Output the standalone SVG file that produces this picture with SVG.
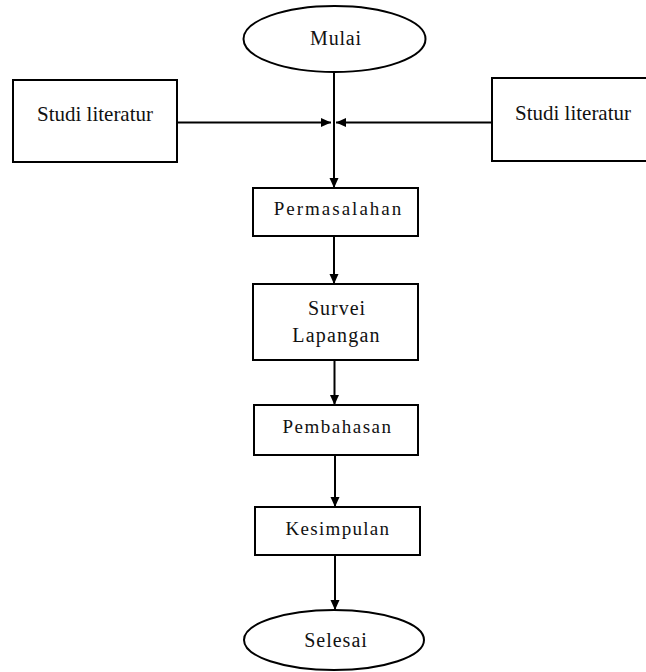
<svg xmlns="http://www.w3.org/2000/svg" width="646" height="672" viewBox="0 0 646 672">
<defs>
<style>
.shape{fill:#fff;stroke:#000;stroke-width:2}
.lbl{font-family:'Liberation Serif','Times New Roman','DejaVu Serif',serif;fill:#111;text-anchor:middle}
.edge{stroke:#000;stroke-width:2;fill:none}
</style>
<marker id="ah" markerUnits="userSpaceOnUse" markerWidth="11" markerHeight="10" refX="10" refY="4.5" orient="auto">
<path d="M0,0 L10,4.5 L0,9 z" fill="#000"/>
</marker>
</defs>
<rect width="646" height="672" fill="#fff"/>
<g id="connectors">
<line class="edge" x1="334" y1="72" x2="334" y2="188" marker-end="url(#ah)"/>
<line class="edge" x1="177" y1="122.5" x2="331" y2="122.5" marker-end="url(#ah)"/>
<line class="edge" x1="491" y1="122.5" x2="336" y2="122.5" marker-end="url(#ah)"/>
<line class="edge" x1="334" y1="236" x2="334" y2="284" marker-end="url(#ah)"/>
<line class="edge" x1="334.5" y1="360" x2="334.5" y2="405" marker-end="url(#ah)"/>
<line class="edge" x1="335" y1="455" x2="335" y2="507" marker-end="url(#ah)"/>
<line class="edge" x1="335" y1="555" x2="335" y2="610" marker-end="url(#ah)"/>
</g>
<g id="mulai">
<ellipse class="shape" cx="334.5" cy="39" rx="91" ry="33"/>
<text class="lbl" font-family="Liberation Serif, serif" x="336" y="45" font-size="20" letter-spacing="0.8">Mulai</text>
</g>
<g id="studi-kiri">
<rect class="shape" x="13" y="80" width="164" height="82"/>
<text class="lbl" font-family="Liberation Serif, serif" x="95" y="121" font-size="21">Studi literatur</text>
</g>
<g id="studi-kanan">
<rect class="shape" x="492" y="78" width="156" height="83"/>
<text class="lbl" font-family="Liberation Serif, serif" x="573" y="120" font-size="21">Studi literatur</text>
</g>
<g id="permasalahan">
<rect class="shape" x="253" y="188" width="165" height="48"/>
<text class="lbl" font-family="Liberation Serif, serif" x="338.5" y="215" font-size="19" letter-spacing="2">Permasalahan</text>
</g>
<g id="survei">
<rect class="shape" x="253" y="284" width="165" height="76"/>
<text class="lbl" font-family="Liberation Serif, serif" x="337" y="314.5" font-size="20" letter-spacing="1">Survei</text>
<text class="lbl" font-family="Liberation Serif, serif" x="336.5" y="342" font-size="20" letter-spacing="1.2">Lapangan</text>
</g>
<g id="pembahasan">
<rect class="shape" x="254" y="405" width="164" height="50"/>
<text class="lbl" font-family="Liberation Serif, serif" x="337.5" y="433" font-size="19" letter-spacing="1.5">Pembahasan</text>
</g>
<g id="kesimpulan">
<rect class="shape" x="255" y="507" width="165" height="48"/>
<text class="lbl" font-family="Liberation Serif, serif" x="338" y="535" font-size="19" letter-spacing="1.3">Kesimpulan</text>
</g>
<g id="selesai">
<ellipse class="shape" cx="334" cy="640" rx="90" ry="30"/>
<text class="lbl" font-family="Liberation Serif, serif" x="336" y="647" font-size="20" letter-spacing="1">Selesai</text>
</g>
</svg>
